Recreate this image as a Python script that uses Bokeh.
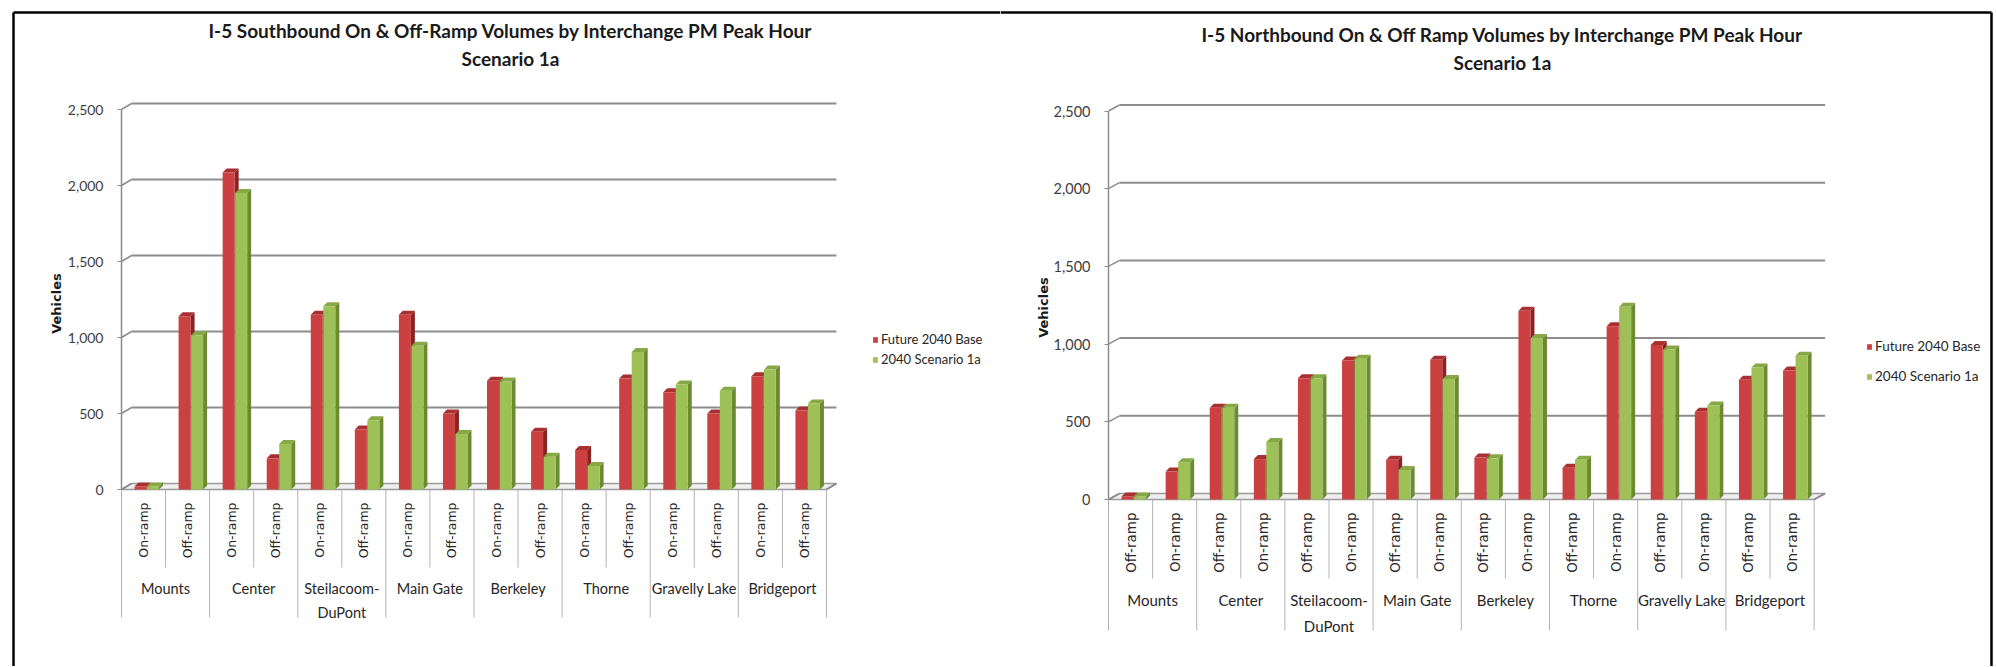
import math
from bokeh.plotting import figure
from bokeh.models import (Range1d, LinearAxis, FixedTicker, NumeralTickFormatter,
                          Legend, LegendItem)
from bokeh.layouts import row
from bokeh.embed import file_html
from bokeh.resources import INLINE
from bokeh.core.properties import value

# ---------------- data ----------------
groups = ["Mounts", "Center", "Steilacoom-DuPont", "Main Gate", "Berkeley",
          "Thorne", "Gravelly Lake", "Bridgeport"]
sb_ramps = ["On-ramp", "Off-ramp"]
nb_ramps = ["Off-ramp", "On-ramp"]
series_names = ["Future 2040 Base", "2040 Scenario 1a"]
y_ticks = [0, 500, 1000, 1500, 2000, 2500]

sb_title = ["I-5 Southbound On & Off-Ramp Volumes by Interchange PM Peak Hour", "Scenario 1a"]
nb_title = ["I-5 Northbound On & Off Ramp Volumes by Interchange PM Peak Hour", "Scenario 1a"]
y_label = "Vehicles"

sb_base = [20, 1140, 2085, 205, 1150, 395, 1150, 500, 715, 380, 260, 730, 640, 500, 745, 520]
sb_scen = [20, 1015, 1950, 300, 1205, 455, 945, 365, 710, 215, 155, 905, 690, 650, 790, 565]
nb_base = [20, 180, 590, 260, 780, 895, 255, 900, 270, 1215, 205, 1115, 995, 565, 770, 830]
nb_scen = [20, 240, 590, 370, 780, 905, 190, 775, 265, 1040, 255, 1240, 965, 605, 850, 925]

# ---------------- style ----------------
FRONT = ["#CB4040", "#9DC157"]
SIDE = ["#8A2323", "#6B8A32"]
TOP = ["#A93030", "#86A845"]
TXT = "#262626"
GRID = "#8c8c8c"
CAL = "Lato"
VER = "DejaVu Sans"


def build(title, ramps, base, scen, c):
    W, H = c["W"], c["H"]
    X0, CW, Y0, S = c["X0"], c["CW"], c["Y0"], c["S"]
    px0, py0 = c["px0"], 0

    def xd(px):
        return (px - X0) / CW

    def yd(py):
        return (Y0 - py) / S

    def dxu(px):
        return px / CW

    def dyu(px):
        return px / S

    p = figure(width=W, height=H, title=None,
               x_range=Range1d(xd(px0), xd(px0 + W)),
               y_range=Range1d(yd(py0 + H), yd(py0)),
               output_backend="svg", toolbar_location=None, min_border=0,
               x_axis_location=None, y_axis_location=None,
               outline_line_color=None, background_fill_color="white",
               border_fill_color="white")
    p.grid.visible = False

    cats = [(g, r) for g in groups for r in ramps]
    n = len(cats)
    centers = [i + 0.5 for i in range(n)]
    Dx, Dy = dxu(c["D"][0]), dyu(-c["D"][1])

    # floor
    p.patch([0, n, n + Dx, Dx], [0, 0, Dy, Dy], fill_color="#efefef",
            line_color="#9a9a9a", line_width=1.5)
    # back wall grid + connectors
    gt = [t for t in y_ticks if t > 0]
    p.segment(x0=[Dx] * len(gt), y0=[t + Dy for t in gt],
              x1=[n + Dx] * len(gt), y1=[t + Dy for t in gt],
              line_color=GRID, line_width=2)
    p.segment(x0=[0] * len(y_ticks), y0=y_ticks, x1=[Dx] * len(y_ticks),
              y1=[t + Dy for t in y_ticks], line_color=GRID, line_width=1.5)
    p.segment(x0=[n], y0=[0], x1=[n + Dx], y1=[Dy], line_color=GRID, line_width=1.5)

    # bars
    offs = [(-9, 3), (3.5, 15.5)]
    bdx, bdy = dxu(4), dyu(4)
    fronts = []
    for k, vals in enumerate([base, scen]):
        L = [cc + dxu(offs[k][0]) for cc in centers]
        R = [cc + dxu(offs[k][1]) for cc in centers]
        p.patches(xs=[[r, r + bdx, r + bdx, r] for r in R],
                  ys=[[0, bdy, v + bdy, v] for v in vals],
                  fill_color=SIDE[k], line_color=None)
        p.patches(xs=[[l, l + bdx, r + bdx, r] for l, r in zip(L, R)],
                  ys=[[v, v + bdy, v + bdy, v] for v in vals],
                  fill_color=TOP[k], line_color=None)
        fr = p.quad(left=L, right=R, bottom=0, top=vals, fill_color=FRONT[k],
                    line_color=None)
        fronts.append(fr)

    # y axis
    ax = LinearAxis(fixed_location=0, bounds=(0, 2500),
                    ticker=FixedTicker(ticks=y_ticks, minor_ticks=[]),
                    formatter=NumeralTickFormatter(format="0,0"),
                    axis_line_color=GRID, axis_line_width=1.5,
                    major_tick_out=4, major_tick_in=0, minor_tick_out=0, minor_tick_in=0,
                    major_tick_line_color=GRID, major_label_standoff=14,
                    major_label_text_font=CAL, major_label_text_font_size=c["tick_fs"],
                    major_label_text_color="#404040")
    p.add_layout(ax, "left")

    # category separators
    xs_minor = [i for i in range(n + 1) if i % 2 == 1]
    xs_major = [i for i in range(n + 1) if i % 2 == 0]
    p.segment(x0=xs_minor, y0=[0] * len(xs_minor), x1=xs_minor,
              y1=[yd(c["sep_minor"])] * len(xs_minor), line_color="#b4b4b4", line_width=1)
    p.segment(x0=xs_major, y0=[0] * len(xs_major), x1=xs_major,
              y1=[yd(c["sep_major"])] * len(xs_major), line_color="#b4b4b4", line_width=1)

    # ramp labels
    p.text(x=centers, y=[yd(c["ramp_top"])] * n, text=[r for _, r in cats],
           angle=math.pi / 2, text_align="right", text_baseline="middle",
           text_font=value(VER), text_font_size=c["ramp_fs"], text_color=TXT)
    # group labels
    gx = [2 * g + 1 for g in range(len(groups))]
    p.text(x=gx, y=[yd(c["grp_top"])] * len(groups),
           text=[g.replace("-", "-\n") for g in groups],
           text_align="center", text_baseline="top", text_line_height=1.45,
           text_font=value(CAL), text_font_size=c["grp_fs"], text_color=TXT)

    # title
    p.text(x=[xd(c["tx"])] * 2, y=[yd(c["ty"][0]), yd(c["ty"][1])], text=title,
           text_align="center", text_baseline="middle", text_font=value(CAL),
           text_font_style="bold", text_font_size=c["title_fs"], text_color="#1a1a1a")
    # y label
    p.text(x=[xd(c["vx"])], y=[yd(c["vy"])], text=[y_label], angle=math.pi / 2,
           text_align="center", text_baseline="middle", text_font=value(VER),
           text_font_style="bold", text_font_size="13px", text_color="#1a1a1a")

    # legend
    pitch = c["lg_pitch"]
    lg_top = c["lg_y"] - pitch / 2
    leg = Legend(items=[LegendItem(label=series_names[k], renderers=[fronts[k]]) for k in range(2)],
                 location=(c["lg_x"] - px0, (py0 + H) - (lg_top + 2 * pitch)),
                 orientation="vertical", glyph_width=6, glyph_height=7,
                 label_height=pitch, spacing=0, padding=0, margin=0,
                 label_standoff=3, label_text_font=CAL, label_text_font_size=c["lg_fs"],
                 label_text_color=TXT, border_line_color=None, background_fill_alpha=0)
    p.add_layout(leg)

    # outer frame pieces
    fy = yd(12)
    if c["side"] == "left":
        p.segment(x0=[xd(13), xd(13)], y0=[fy, fy], x1=[xd(px0 + W), xd(13)],
                  y1=[fy, yd(py0 + H)], line_color="black", line_width=2.5)
    else:
        p.segment(x0=[xd(px0), xd(1991)], y0=[fy, fy], x1=[xd(1991), xd(1991)],
                  y1=[fy, yd(py0 + H)], line_color="black", line_width=2.5)
    return p


left_cfg = dict(side="left", W=1000, H=666, px0=0, X0=121, CW=44.06, Y0=489, S=0.152,
                D=(10, -6), tx=510, ty=(30, 58), vx=56, vy=303, lg_x=872, lg_y=339,
                lg_pitch=20, lg_fs="13px", ramp_top=502, ramp_fs="12.5px",
                sep_minor=567, sep_major=617, grp_top=579, grp_fs="14.5px",
                tick_fs="14px", title_fs="19px")
right_cfg = dict(side="right", W=994, H=666, px0=1000, X0=1108, CW=44.1, Y0=499, S=0.1554,
                 D=(11, -6), tx=1502, ty=(34, 62), vx=1043, vy=307, lg_x=1866, lg_y=346,
                 lg_pitch=30, lg_fs="13.5px", ramp_top=512, ramp_fs="13.5px",
                 sep_minor=578, sep_major=630, grp_top=590, grp_fs="15px",
                 tick_fs="14.5px", title_fs="19px")

p1 = build(sb_title, sb_ramps, sb_base, sb_scen, left_cfg)
p2 = build(nb_title, nb_ramps, nb_base, nb_scen, right_cfg)
layout = row(p1, p2, spacing=0)
open("out.html", "w").write(file_html(layout, INLINE))
